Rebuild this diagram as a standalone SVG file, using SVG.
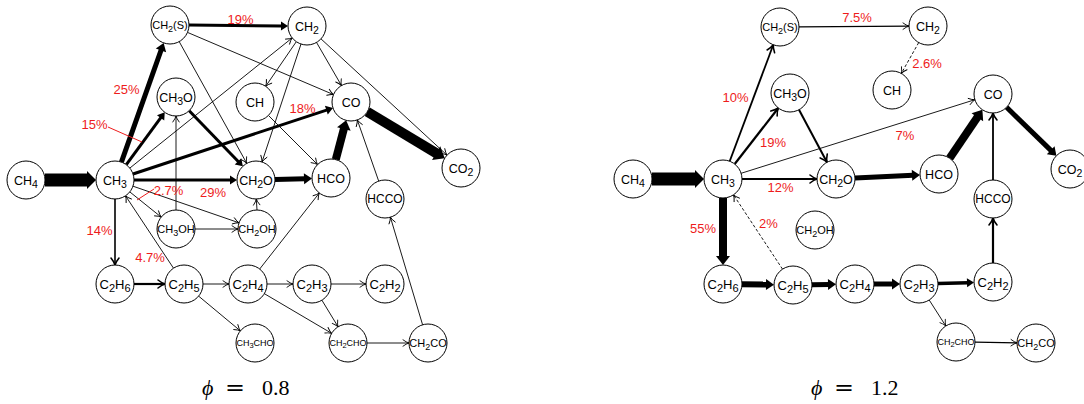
<svg xmlns="http://www.w3.org/2000/svg" width="1084" height="404" viewBox="0 0 1084 404">
<defs>
<style>
.n circle{fill:#fff;stroke:#000;stroke-width:1}
.n text{font-family:"Liberation Sans",Arial,sans-serif;text-anchor:middle;fill:#000}
.m{font-size:12.5px}
.b{font-size:13px}
.s{font-size:11px}
.xs{font-size:9px}
.e line{stroke:#000;fill:none}
.lbl text{font-family:"Liberation Sans",Arial,sans-serif;font-size:13px;fill:#ee1c1c;text-anchor:middle}
.lead{stroke:#ee1c1c;stroke-width:1}
.phi{font-family:"Liberation Serif","DejaVu Serif",serif;font-size:22px;fill:#000}
.eq{font-family:"DejaVu Serif",serif;font-size:22px;fill:#000}
</style>
<marker id="v1" markerUnits="userSpaceOnUse" viewBox="-8 -5 9 10" markerWidth="9" markerHeight="10" refX="0" refY="0" orient="auto" overflow="visible"><path d="M-6,-3.2 Q-2.5,-0.6 0,0 Q-2.5,0.6 -6,3.2" fill="none" stroke="#000" stroke-width="0.9" stroke-linecap="round"/></marker>
<marker id="v2" markerUnits="userSpaceOnUse" viewBox="-9 -6 10 12" markerWidth="10" markerHeight="12" refX="0" refY="0" orient="auto" overflow="visible"><path d="M-7,-4 Q-3,-0.8 0,0 Q-3,0.8 -7,4" fill="none" stroke="#000" stroke-width="1.6" stroke-linecap="round"/></marker>
<marker id="t3" markerUnits="userSpaceOnUse" viewBox="-2 -6 10 12" markerWidth="10" markerHeight="12" refX="0" refY="0" orient="auto" overflow="visible"><polygon points="-1,-4.5 6,0 -1,4.5" fill="#000"/></marker>
<marker id="t5" markerUnits="userSpaceOnUse" viewBox="-2 -7 10 14" markerWidth="10" markerHeight="14" refX="0" refY="0" orient="auto" overflow="visible"><polygon points="-1,-5.5 7,0 -1,5.5" fill="#000"/></marker>
<marker id="t8" markerUnits="userSpaceOnUse" viewBox="-2 -8 11 16" markerWidth="11" markerHeight="16" refX="0" refY="0" orient="auto" overflow="visible"><polygon points="-1,-7 8,0 -1,7" fill="#000"/></marker>
<marker id="t10" markerUnits="userSpaceOnUse" viewBox="-2 -9 12 18" markerWidth="12" markerHeight="18" refX="0" refY="0" orient="auto" overflow="visible"><polygon points="-1,-8 9,0 -1,8" fill="#000"/></marker>
<marker id="t13" markerUnits="userSpaceOnUse" viewBox="-2 -10 11 20" markerWidth="11" markerHeight="20" refX="0" refY="0" orient="auto" overflow="visible"><polygon points="-1,-9 8,0 -1,9" fill="#000"/></marker>
</defs>
<rect width="1084" height="404" fill="#fff"/>

<g id="connectors" class="e">
<!-- left: phi = 0.8 -->
<line x1="45" y1="180" x2="88" y2="180" stroke-width="13" marker-end="url(#t13)"/>
<line x1="121.4" y1="162.1" x2="161.3" y2="49.5" stroke-width="5" marker-end="url(#t5)"/>
<line x1="126.3" y1="164.7" x2="161.2" y2="117.1" stroke-width="3" marker-end="url(#t3)"/>
<line x1="129.8" y1="168.1" x2="292.2" y2="37.9" stroke-width="0.9" marker-end="url(#v1)"/>
<line x1="133" y1="174" x2="327.3" y2="109.8" stroke-width="3" marker-end="url(#t3)"/>
<line x1="134" y1="180" x2="231" y2="180" stroke-width="3" marker-end="url(#t3)"/>
<line x1="129.8" y1="191.9" x2="161.2" y2="217.1" stroke-width="0.9" marker-end="url(#v1)"/>
<line x1="133" y1="186.2" x2="239" y2="222.8" stroke-width="0.9" marker-end="url(#v1)"/>
<line x1="115" y1="199" x2="115" y2="265" stroke-width="1.6" marker-end="url(#v2)"/>
<line x1="173.5" y1="268.2" x2="125.5" y2="195.8" stroke-width="0.9" marker-end="url(#v1)"/>
<line x1="134" y1="284" x2="165" y2="284" stroke-width="2.2" marker-end="url(#v2)"/>
<line x1="203" y1="284" x2="229" y2="284" stroke-width="0.9" marker-end="url(#v1)"/>
<line x1="198.6" y1="296.1" x2="240.4" y2="330.9" stroke-width="0.9" marker-end="url(#v1)"/>
<line x1="267" y1="284" x2="293" y2="284" stroke-width="0.9" marker-end="url(#v1)"/>
<line x1="259.7" y1="269" x2="319.3" y2="193" stroke-width="0.9" marker-end="url(#v1)"/>
<line x1="264.4" y1="293.7" x2="331.6" y2="333.3" stroke-width="0.9" marker-end="url(#v1)"/>
<line x1="331" y1="284" x2="366" y2="284" stroke-width="0.9" marker-end="url(#v1)"/>
<line x1="321.9" y1="300.2" x2="338.1" y2="326.8" stroke-width="0.9" marker-end="url(#v1)"/>
<line x1="367" y1="343" x2="409" y2="343" stroke-width="0.9" marker-end="url(#v1)"/>
<line x1="422.6" y1="324.8" x2="390.4" y2="217.2" stroke-width="0.9" marker-end="url(#v1)"/>
<line x1="378.7" y1="181.1" x2="357.3" y2="119.9" stroke-width="0.9" marker-end="url(#v1)"/>
<line x1="335.8" y1="159.6" x2="344.1" y2="128.1" stroke-width="8" marker-end="url(#t8)"/>
<line x1="367.3" y1="111.8" x2="437" y2="153.6" stroke-width="10" marker-end="url(#t10)"/>
<line x1="275" y1="179.5" x2="305" y2="178.7" stroke-width="5" marker-end="url(#t5)"/>
<line x1="189.2" y1="110.7" x2="238.7" y2="162" stroke-width="3" marker-end="url(#t3)"/>
<line x1="195" y1="229" x2="238" y2="229" stroke-width="0.9" marker-end="url(#v1)"/>
<line x1="176" y1="210" x2="176" y2="116" stroke-width="0.9" marker-end="url(#v1)"/>
<line x1="257" y1="210" x2="256.3" y2="199" stroke-width="0.9" marker-end="url(#v1)"/>
<line x1="189" y1="25.1" x2="282" y2="25.9" stroke-width="3" marker-end="url(#t3)"/>
<line x1="187.5" y1="32.4" x2="333.5" y2="94.6" stroke-width="0.9" marker-end="url(#v1)"/>
<line x1="179.2" y1="41.6" x2="246.8" y2="163.4" stroke-width="0.9" marker-end="url(#v1)"/>
<line x1="296.3" y1="41.7" x2="265.7" y2="86.3" stroke-width="0.9" marker-end="url(#v1)"/>
<line x1="301" y1="44" x2="262" y2="162" stroke-width="0.9" marker-end="url(#v1)"/>
<line x1="316.5" y1="42.4" x2="341.5" y2="85.6" stroke-width="0.9" marker-end="url(#v1)"/>
<line x1="321" y1="38.9" x2="447" y2="155.1" stroke-width="0.9" marker-end="url(#v1)"/>
<line x1="268.4" y1="115.4" x2="317.6" y2="164.6" stroke-width="0.9" marker-end="url(#v1)"/>
<!-- right: phi = 1.2 -->
<line x1="652" y1="179" x2="696" y2="179" stroke-width="13" marker-end="url(#t13)"/>
<line x1="729.7" y1="161.2" x2="773.3" y2="44.8" stroke-width="1.8" marker-end="url(#v2)"/>
<line x1="734.7" y1="164" x2="778.3" y2="108" stroke-width="2.2" marker-end="url(#v2)"/>
<line x1="741.1" y1="173.3" x2="974.9" y2="99.7" stroke-width="0.9" marker-end="url(#v1)"/>
<line x1="742" y1="179" x2="817" y2="179" stroke-width="2" marker-end="url(#v2)"/>
<line x1="723" y1="198" x2="723" y2="257" stroke-width="8" marker-end="url(#t8)"/>
<line x1="782.5" y1="269.1" x2="733.5" y2="194.9" stroke-width="0.9" stroke-dasharray="3,2" marker-end="url(#v1)"/>
<line x1="799" y1="109.8" x2="827" y2="162.2" stroke-width="2" marker-end="url(#v2)"/>
<line x1="855" y1="178.1" x2="913" y2="175.3" stroke-width="5" marker-end="url(#t5)"/>
<line x1="949.6" y1="158.2" x2="977.9" y2="116.4" stroke-width="8" marker-end="url(#t8)"/>
<line x1="1006.6" y1="107.3" x2="1051.4" y2="150.9" stroke-width="5" marker-end="url(#t5)"/>
<line x1="993" y1="180" x2="993" y2="113" stroke-width="1.8" marker-end="url(#v2)"/>
<line x1="993" y1="263" x2="993" y2="218" stroke-width="2.2" marker-end="url(#v2)"/>
<line x1="742" y1="284.3" x2="767" y2="284.6" stroke-width="6" marker-end="url(#t5)"/>
<line x1="812" y1="284.7" x2="829" y2="284.4" stroke-width="5" marker-end="url(#t5)"/>
<line x1="874" y1="284" x2="893" y2="284" stroke-width="5" marker-end="url(#t5)"/>
<line x1="938" y1="283.5" x2="968" y2="282.7" stroke-width="3.5" marker-end="url(#t3)"/>
<line x1="929.2" y1="300" x2="945.8" y2="326" stroke-width="0.9" marker-end="url(#v1)"/>
<line x1="975" y1="342.2" x2="1017" y2="342.8" stroke-width="1.3" marker-end="url(#v1)"/>
<line x1="799" y1="26.9" x2="909" y2="26.1" stroke-width="1.3" marker-end="url(#v1)"/>
<line x1="918.7" y1="42.6" x2="901.3" y2="73.4" stroke-width="0.9" stroke-dasharray="3,2" marker-end="url(#v1)"/>
</g>

<g id="labels" class="lbl">
<line class="lead" x1="108" y1="127" x2="142" y2="142"/>
<line class="lead" x1="137" y1="200" x2="154" y2="189"/>
<text x="240.5" y="23.5">19%</text>
<text x="126.5" y="93.5">25%</text>
<text x="94.5" y="128.5">15%</text>
<text x="302.5" y="112.5">18%</text>
<text x="213" y="196.5">29%</text>
<text x="168.5" y="194.5">2.7%</text>
<text x="99.5" y="234.5">14%</text>
<text x="150" y="261.5">4.7%</text>
<text x="857" y="21.5">7.5%</text>
<text x="927" y="67.5">2.6%</text>
<text x="735.5" y="101.5">10%</text>
<text x="773" y="146.5">19%</text>
<text x="905" y="139.5">7%</text>
<text x="780.5" y="191.5">12%</text>
<text x="703" y="232.5">55%</text>
<text x="768.5" y="227.5">2%</text>
</g>

<!-- left nodes -->
<g id="L-CH4" class="n"><circle cx="26" cy="180" r="19"/><text class="m" x="26" y="184.5">CH<tspan dy="3" font-size="10.5">4</tspan></text></g>
<g id="L-CH3" class="n"><circle cx="115" cy="180" r="19"/><text class="m" x="115" y="184.5">CH<tspan dy="3" font-size="10.5">3</tspan></text></g>
<g id="L-CH2S" class="n"><circle cx="170" cy="25" r="19"/><text class="s" x="170" y="29">CH<tspan dy="2.5" font-size="9">2</tspan><tspan dy="-2.5">(S)</tspan></text></g>
<g id="L-CH2" class="n"><circle cx="307" cy="26" r="19"/><text class="m" x="307" y="30.5">CH<tspan dy="3" font-size="10.5">2</tspan></text></g>
<g id="L-CH3O" class="n"><circle cx="176" cy="97" r="19"/><text class="m" x="176" y="101.5">CH<tspan dy="3" font-size="10.5">3</tspan><tspan dy="-3">O</tspan></text></g>
<g id="L-CH" class="n"><circle cx="255" cy="102" r="19"/><text class="m" x="255" y="106.5">CH</text></g>
<g id="L-CO" class="n"><circle cx="351" cy="102" r="19"/><text class="m" x="351" y="106.5">CO</text></g>
<g id="L-CO2" class="n"><circle cx="461" cy="168" r="19"/><text class="m" x="461" y="172.5">CO<tspan dy="3" font-size="10.5">2</tspan></text></g>
<g id="L-CH2O" class="n"><circle cx="256" cy="180" r="19"/><text class="m" x="256" y="184.5">CH<tspan dy="3" font-size="10.5">2</tspan><tspan dy="-3">O</tspan></text></g>
<g id="L-HCO" class="n"><circle cx="331" cy="178" r="19"/><text class="m" x="331" y="182.5">HCO</text></g>
<g id="L-HCCO" class="n"><circle cx="385" cy="199" r="19"/><text x="385" y="203.3" font-size="12">HCCO</text></g>
<g id="L-CH3OH" class="n"><circle cx="176" cy="229" r="19"/><text class="s" x="176" y="233">CH<tspan dy="2.5" font-size="9">3</tspan><tspan dy="-2.5">OH</tspan></text></g>
<g id="L-CH2OH" class="n"><circle cx="257" cy="229" r="19"/><text class="s" x="257" y="233">CH<tspan dy="2.5" font-size="9">2</tspan><tspan dy="-2.5">OH</tspan></text></g>
<g id="L-C2H6" class="n"><circle cx="115" cy="284" r="19"/><text class="b" x="115" y="288.5">C<tspan dy="3" font-size="11">2</tspan><tspan dy="-3">H</tspan><tspan dy="3" font-size="11">6</tspan></text></g>
<g id="L-C2H5" class="n"><circle cx="184" cy="284" r="19"/><text class="b" x="184" y="288.5">C<tspan dy="3" font-size="11">2</tspan><tspan dy="-3">H</tspan><tspan dy="3" font-size="11">5</tspan></text></g>
<g id="L-C2H4" class="n"><circle cx="248" cy="284" r="19"/><text class="b" x="248" y="288.5">C<tspan dy="3" font-size="11">2</tspan><tspan dy="-3">H</tspan><tspan dy="3" font-size="11">4</tspan></text></g>
<g id="L-C2H3" class="n"><circle cx="312" cy="284" r="19"/><text class="b" x="312" y="288.5">C<tspan dy="3" font-size="11">2</tspan><tspan dy="-3">H</tspan><tspan dy="3" font-size="11">3</tspan></text></g>
<g id="L-C2H2" class="n"><circle cx="385" cy="284" r="19"/><text class="b" x="385" y="288.5">C<tspan dy="3" font-size="11">2</tspan><tspan dy="-3">H</tspan><tspan dy="3" font-size="11">2</tspan></text></g>
<g id="L-CH3CHO" class="n"><circle cx="255" cy="343" r="19"/><text class="xs" x="255" y="346.3">CH<tspan dy="2" font-size="7.5">3</tspan><tspan dy="-2">CHO</tspan></text></g>
<g id="L-CH2CHO" class="n"><circle cx="348" cy="343" r="19"/><text class="xs" x="348" y="346.3">CH<tspan dy="2" font-size="7.5">2</tspan><tspan dy="-2">CHO</tspan></text></g>
<g id="L-CH2CO" class="n"><circle cx="428" cy="343" r="19"/><text class="s" x="428" y="347">CH<tspan dy="2.5" font-size="9">2</tspan><tspan dy="-2.5">CO</tspan></text></g>

<!-- right nodes -->
<g id="R-CH4" class="n"><circle cx="633" cy="179" r="19"/><text class="m" x="633" y="183.5">CH<tspan dy="3" font-size="10.5">4</tspan></text></g>
<g id="R-CH3" class="n"><circle cx="723" cy="179" r="19"/><text class="m" x="723" y="183.5">CH<tspan dy="3" font-size="10.5">3</tspan></text></g>
<g id="R-CH2S" class="n"><circle cx="780" cy="27" r="19"/><text class="s" x="780" y="31">CH<tspan dy="2.5" font-size="9">2</tspan><tspan dy="-2.5">(S)</tspan></text></g>
<g id="R-CH2" class="n"><circle cx="928" cy="26" r="19"/><text class="m" x="928" y="30.5">CH<tspan dy="3" font-size="10.5">2</tspan></text></g>
<g id="R-CH3O" class="n"><circle cx="790" cy="93" r="19"/><text class="m" x="790" y="97.5">CH<tspan dy="3" font-size="10.5">3</tspan><tspan dy="-3">O</tspan></text></g>
<g id="R-CH" class="n"><circle cx="892" cy="90" r="19"/><text class="m" x="892" y="94.5">CH</text></g>
<g id="R-CO" class="n"><circle cx="993" cy="94" r="19"/><text class="m" x="993" y="98.5">CO</text></g>
<g id="R-CO2" class="n"><circle cx="1070" cy="169" r="19"/><text class="m" x="1070" y="173.5">CO<tspan dy="3" font-size="10.5">2</tspan></text></g>
<g id="R-CH2O" class="n"><circle cx="836" cy="179" r="19"/><text class="m" x="836" y="183.5">CH<tspan dy="3" font-size="10.5">2</tspan><tspan dy="-3">O</tspan></text></g>
<g id="R-HCO" class="n"><circle cx="939" cy="174" r="19"/><text class="m" x="939" y="178.5">HCO</text></g>
<g id="R-HCCO" class="n"><circle cx="993" cy="199" r="19"/><text x="993" y="203.3" font-size="12">HCCO</text></g>
<g id="R-CH2OH" class="n"><circle cx="815" cy="230" r="19"/><text class="s" x="815" y="234">CH<tspan dy="2.5" font-size="9">2</tspan><tspan dy="-2.5">OH</tspan></text></g>
<g id="R-C2H6" class="n"><circle cx="723" cy="284" r="19"/><text class="b" x="723" y="288.5">C<tspan dy="3" font-size="11">2</tspan><tspan dy="-3">H</tspan><tspan dy="3" font-size="11">6</tspan></text></g>
<g id="R-C2H5" class="n"><circle cx="793" cy="285" r="19"/><text class="b" x="793" y="289.5">C<tspan dy="3" font-size="11">2</tspan><tspan dy="-3">H</tspan><tspan dy="3" font-size="11">5</tspan></text></g>
<g id="R-C2H4" class="n"><circle cx="855" cy="284" r="19"/><text class="b" x="855" y="288.5">C<tspan dy="3" font-size="11">2</tspan><tspan dy="-3">H</tspan><tspan dy="3" font-size="11">4</tspan></text></g>
<g id="R-C2H3" class="n"><circle cx="919" cy="284" r="19"/><text class="b" x="919" y="288.5">C<tspan dy="3" font-size="11">2</tspan><tspan dy="-3">H</tspan><tspan dy="3" font-size="11">3</tspan></text></g>
<g id="R-C2H2" class="n"><circle cx="993" cy="282" r="19"/><text class="b" x="993" y="286.5">C<tspan dy="3" font-size="11">2</tspan><tspan dy="-3">H</tspan><tspan dy="3" font-size="11">2</tspan></text></g>
<g id="R-CH2CHO" class="n"><circle cx="956" cy="342" r="19"/><text class="xs" x="956" y="345.3">CH<tspan dy="2" font-size="7.5">2</tspan><tspan dy="-2">CHO</tspan></text></g>
<g id="R-CH2CO" class="n"><circle cx="1036" cy="343" r="19"/><text class="s" x="1036" y="347">CH<tspan dy="2.5" font-size="9">2</tspan><tspan dy="-2.5">CO</tspan></text></g>

<!-- captions -->
<g id="caption-left">
<text class="phi" x="202" y="395" font-style="italic">ϕ</text>
<text class="eq" x="225" y="395" textLength="20" lengthAdjust="spacingAndGlyphs">=</text>
<text class="phi" x="262" y="395">0.8</text>
</g>
<g id="caption-right">
<text class="phi" x="811" y="395" font-style="italic">ϕ</text>
<text class="eq" x="834" y="395" textLength="20" lengthAdjust="spacingAndGlyphs">=</text>
<text class="phi" x="871" y="395">1.2</text>
</g>
</svg>
